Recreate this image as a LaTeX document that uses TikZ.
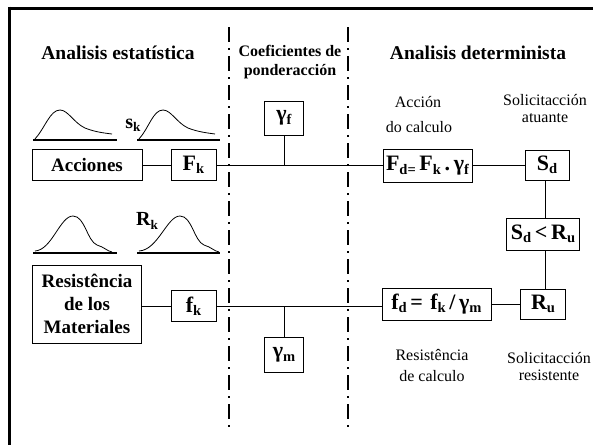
\documentclass[tikz,border=0pt]{standalone}
\usepackage{fontspec}
\usepackage{graphicx}
\setmainfont{Liberation Serif}
% lowered, reduced subscript in text fonts
\newcommand{\lsub}[1]{\raisebox{-0.34ex}{\scalebox{0.66}{#1}}}
\tikzset{
  box/.style={draw, line width=0.8pt, inner sep=0pt, align=center,
    font=\bfseries\fontsize{19}{21}\selectfont},
  symbox/.style={box, font=\bfseries\fontsize{22}{24}\selectfont},
  title/.style={font=\bfseries\fontsize{19.5}{22}\selectfont, inner sep=0pt},
  subtitle/.style={font=\bfseries\fontsize{16}{19}\selectfont, align=center, inner sep=0pt},
  note/.style={font=\fontsize{16}{17}\selectfont, align=center, inner sep=0pt},
  link/.style={line width=0.8pt},
  divider/.style={line width=1.8pt, dash pattern=on 15pt off 6pt on 2pt off 6pt},
  frame/.style={line width=3pt},
  curve/.style={line width=0.8pt},
  base/.style={line width=1.3pt}
}
\begin{document}
\begin{tikzpicture}[x=1pt, y=-1pt]
\useasboundingbox (0,0) rectangle (593,445);

% outer frame (top and left edges)
\draw[frame] (8,8) -- (593,8);
\draw[frame] (9.5,6.5) -- (9.5,445);

% column dividers
\draw[divider] (229,27) -- (229,432);
\draw[divider] (348,27) -- (348,432);

% column headings
\node[title] (t1) at (118,53) {Analisis estatística};
\node[subtitle] (t2) at (290,62) {Coeficientes de\\ponderacción};
\node[title] (t3) at (478,53) {Analisis determinista};

% distribution sketches, actions
\draw[base] (33,140) -- (117,140);
\draw[curve] (35,139) .. controls (45,128) and (50,110) .. (60,110)
  .. controls (68,110) and (74,123) .. (85,128)
  .. controls (95,132) and (104,133) .. (112,134);
\draw[base] (137,140) -- (220,140);
\draw[curve] (139,139) .. controls (149,128) and (153,110) .. (163,110)
  .. controls (171,110) and (177,123) .. (188,128)
  .. controls (198,132) and (208,133) .. (215,134);
\node[font=\bfseries\fontsize{20}{21}\selectfont, inner sep=0pt] (sk) at (133,125) {s\lsub{k}};

% distribution sketches, materials
\draw[base] (33,253) -- (117,253);
\draw[curve] (35,251) .. controls (52,250) and (60,216) .. (73,216)
  .. controls (85,216) and (87,241) .. (97,245)
  .. controls (104,247) and (107,251) .. (112,252);
\draw[base] (137,253) -- (220,253);
\draw[curve] (139,251) .. controls (158,250) and (167,216) .. (180,216)
  .. controls (192,216) and (194,241) .. (204,245)
  .. controls (211,247) and (214,251) .. (219,252);
\node[font=\bfseries\fontsize{20}{21}\selectfont, inner sep=0pt] (rk) at (147,221) {R\lsub{k}};

% upper chain: actions
\node[box, minimum width=110pt, minimum height=31pt] (acc) at (87,165) {Acciones};
\node[symbox, minimum width=45pt, minimum height=31pt] (Fk) at (193.5,165) {F\lsub{k}};
\node[symbox, minimum width=39pt, minimum height=34pt] (gf) at (284,118) {γ\lsub{f}};
\node[symbox, minimum width=89pt, minimum height=33pt] (Fd) at (427.5,166) {F\lsub{d=}\,F\lsub{k}\,.\,γ\lsub{f}};
\node[symbox, minimum width=44pt, minimum height=30pt] (Sd) at (547,165) {S\lsub{d}};
\node[symbox, minimum width=73pt, minimum height=32pt] (cmp) at (543,234) {S\lsub{d}\,<\,R\lsub{u}};

% lower chain: materials
\node[box, minimum width=109pt, minimum height=78pt, font=\bfseries\fontsize{19}{23}\selectfont] (res) at (87,304) {Resistência\\de los\\Materiales};
\node[symbox, minimum width=45pt, minimum height=31pt] (fk) at (193.5,306) {f\lsub{k}};
\node[symbox, minimum width=39pt, minimum height=35pt] (gm) at (284,355) {γ\lsub{m}};
\node[symbox, minimum width=109pt, minimum height=32pt] (fd) at (436.5,304) {f\lsub{d}\,=\,\,f\lsub{k}\,/\,γ\lsub{m}};
\node[symbox, minimum width=45pt, minimum height=30pt] (Ru) at (543,304) {R\lsub{u}};

% descriptive labels
\node[note] (n1) at (418,102) {Acción};
\node[note] (n2) at (419,127) {do calculo};
\node[note] (n3) at (545,109) {Solicitacción\\atuante};
\node[note, font=\fontsize{16}{21}\selectfont] (n4) at (432,366) {Resistência\\de calculo};
\node[note] (n5) at (549,367) {Solicitacción\\resistente};

% connectors
\coordinate (vl) at (545,0);
\draw[link] (acc.east) -- (Fk.west);
\draw[link] (Fk.east) -- (Fk.east -| Fd.west);
\draw[link] (gf.south) -- (gf.south |- Fk.east);
\draw[link] (Fd.east |- Sd.west) -- (Sd.west);
\draw[link] (Sd.south -| vl) -- (cmp.north -| vl);
\draw[link] (cmp.south -| vl) -- (Ru.north -| vl);
\draw[link] (res.east |- fk.west) -- (fk.west);
\draw[link] (fk.east) -- (fk.east -| fd.west);
\draw[link] (gm.north) -- (gm.north |- fk.east);
\draw[link] (fd.east |- Ru.west) -- (Ru.west);
\end{tikzpicture}
\end{document}
